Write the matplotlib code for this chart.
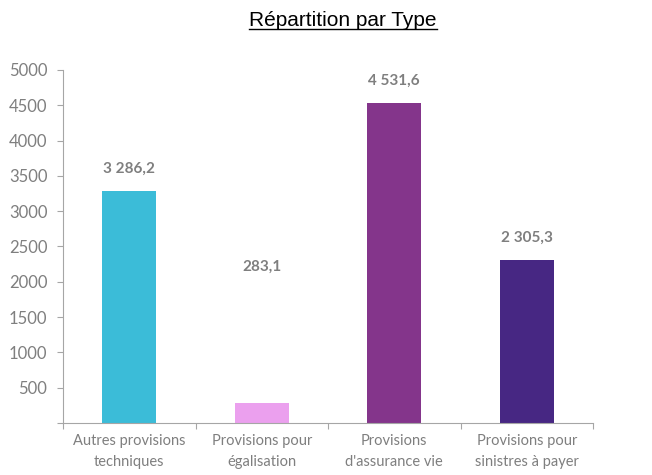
import matplotlib.pyplot as plt
import numpy as np

categories = ['Autres provisions\ntechniques', 'Provisions pour\négalisation',
              'Provisions\nd\'assurance vie', 'Provisions pour\nsinistres à payer']
values = [3286.2, 283.1, 4531.6, 2305.3]
labels = ['3 286,2', '283,1', '4 531,6', '2 305,3']
colors = ['#3BBCD8', '#EBA0EE', '#84358B', '#472783']
label_offsets = [16, 98, 16, 16]  # points above bar top

fig = plt.figure(figsize=(6.52, 4.75), dpi=100)
ax = fig.add_axes([63/652, 52/475, 530/652, 353/475])

x = np.arange(len(values))
ax.bar(x, values, width=0.41, color=colors)

for xi, v, lab, off in zip(x, values, labels, label_offsets):
    ax.annotate(lab, (xi, v), xytext=(0, off), textcoords='offset points',
                ha='center', va='center', fontsize=11, fontweight='bold',
                color='#7F7F7F', family='Lato')

ax.set_xlim(-0.5, 3.5)
ax.set_ylim(0, 5000)
yt = np.arange(0, 5001, 500)
ax.set_yticks(yt)
ax.set_yticklabels([''] + [str(int(t)) for t in yt[1:]])
ax.set_xticks(x)
ax.set_xticklabels(categories)
ax.set_xticks(np.arange(-0.5, 3.6, 1), minor=True)

ax.tick_params(axis='y', length=4.3, width=0.8, color='#A6A6A6', pad=7,
               labelsize=12, labelcolor='#7F7F7F')
ax.tick_params(axis='x', which='major', length=0, pad=8,
               labelsize=10.5, labelcolor='#7F7F7F')
ax.tick_params(axis='x', which='minor', length=4.3, width=0.8, color='#A6A6A6')
for t in ax.get_xticklabels() + ax.get_yticklabels():
    t.set_family('Lato')
for t in ax.get_xticklabels():
    t.set_linespacing(1.65)

for s in ['top', 'right']:
    ax.spines[s].set_visible(False)
for s in ['left', 'bottom']:
    ax.spines[s].set_color('#A6A6A6')
    ax.spines[s].set_linewidth(0.8)

title = fig.text(343/652, 1 - 20/475, 'Répartition par Type', ha='center', va='center',
                 fontsize=15, family='Liberation Sans', color='black')
fig.canvas.draw()
bb = title.get_window_extent().transformed(fig.transFigure.inverted())
fig.add_artist(plt.Line2D([bb.x0, bb.x1], [bb.y0 + 0.002, bb.y0 + 0.002],
                          transform=fig.transFigure, color='black', lw=1))

plt.savefig('out.png', dpi=100)
